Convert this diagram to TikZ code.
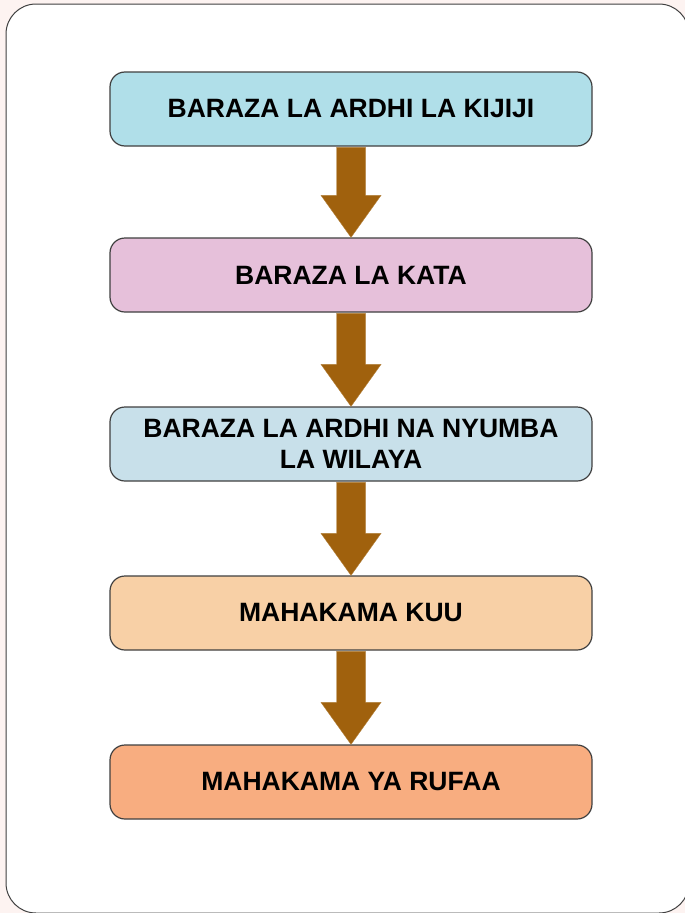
\documentclass[tikz,border=0pt]{standalone}
\usepackage{fontspec}
\setmainfont{Liberation Sans}
\begin{document}
\begin{tikzpicture}[x=1pt,y=-1pt,
  stagebox/.style={draw=black!75, line width=1.2pt, rounded corners=15pt,
    minimum width=482pt, minimum height=74pt, inner sep=0pt, align=center,
    font=\fontsize{26.5}{31}\selectfont\bfseries, text=black},
  flowarrow/.style={fill=arrowbrown, draw=arrowbrown!80!white, line width=0.4pt}]
\definecolor{bgpink}{HTML}{FDF3F1}
\definecolor{arrowbrown}{HTML}{A0610D}
\definecolor{cA}{HTML}{B0DFE9}
\definecolor{cB}{HTML}{E6C0DA}
\definecolor{cC}{HTML}{C8E0EA}
\definecolor{cD}{HTML}{F8D0A6}
\definecolor{cE}{HTML}{F8AD80}
\useasboundingbox (0,0) rectangle (685,913);
\fill[bgpink] (0,0) rectangle (685,913);
\begin{scope}
\clip (0,0) rectangle (685,913);
\draw[fill=white, draw=black!75, line width=1pt, rounded corners=30pt] (6,4) rectangle (689,913);
\end{scope}
\node[stagebox, fill=cA] (n1) at (351,109) {BARAZA LA ARDHI LA KIJIJI};
\node[stagebox, fill=cB] (n2) at (351,275) {BARAZA LA KATA};
\node[stagebox, fill=cC] (n3) at (351,444) {BARAZA LA ARDHI NA NYUMBA\\LA WILAYA};
\node[stagebox, fill=cD] (n4) at (351,613) {MAHAKAMA KUU};
\node[stagebox, fill=cE] (n5) at (351,782) {MAHAKAMA YA RUFAA};
\foreach \a/\b in {n1/n2, n2/n3, n3/n4, n4/n5}{
  \path (\a.south) coordinate (top-\a) (\b.north) coordinate (tip-\a);
  \draw[flowarrow] ([xshift=-14.5pt,yshift=-0.8pt]top-\a) -- ([xshift=14.5pt,yshift=-0.8pt]top-\a)
    -- ([xshift=14.5pt,yshift=42pt]tip-\a) -- ([xshift=30pt,yshift=42pt]tip-\a)
    -- (tip-\a) -- ([xshift=-30pt,yshift=42pt]tip-\a) -- ([xshift=-14.5pt,yshift=42pt]tip-\a) -- cycle;
}
\end{tikzpicture}
\end{document}
